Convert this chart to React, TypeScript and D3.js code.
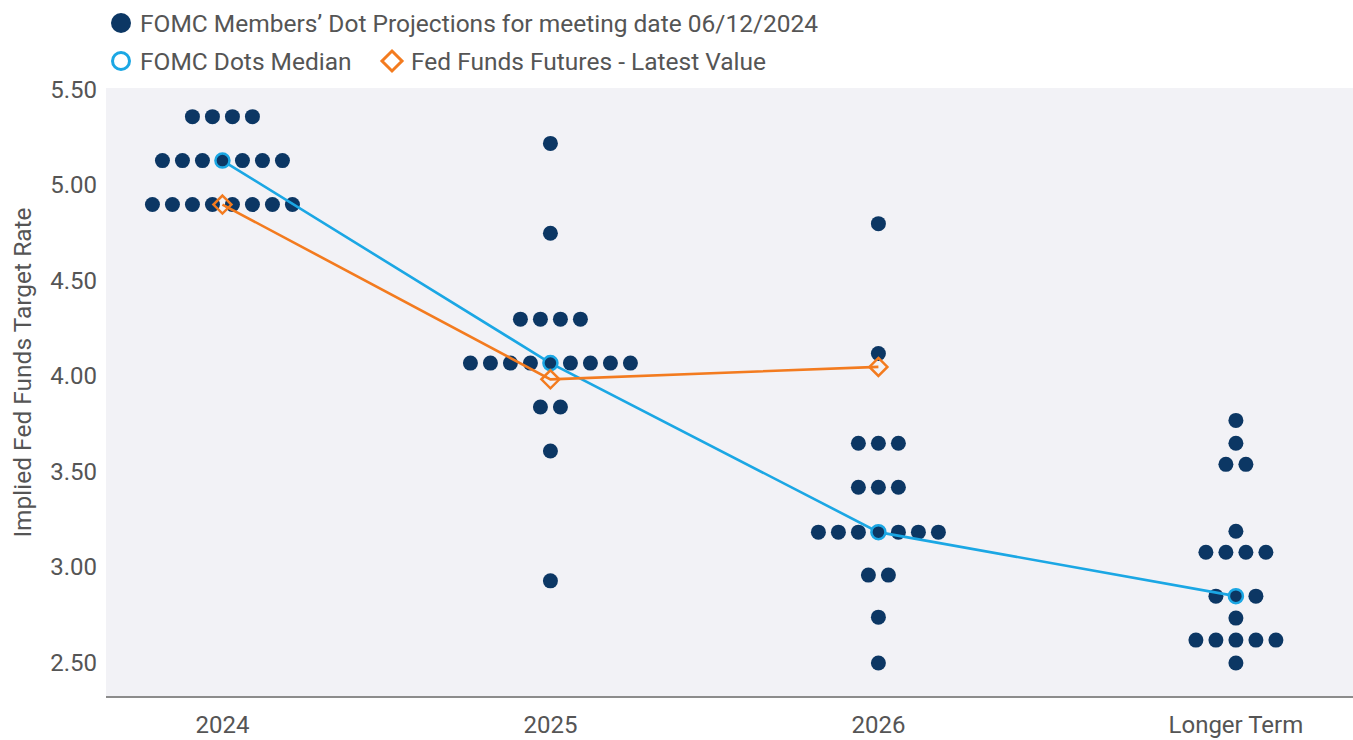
import React from "react";
import * as d3 from "d3";

// categories on the x axis
const categories = ["2024", "2025", "2026", "Longer Term"];

// FOMC dots: [rate, number of members] per row
const dots2024 = [[5.36, 4], [5.13, 7], [4.9, 8]];
const dots2025 = [[5.22, 1], [4.75, 1], [4.3, 4], [4.07, 9], [3.84, 2], [3.61, 1], [2.93, 1]];
const dots2026 = [[4.8, 1], [4.12, 1], [3.65, 3], [3.42, 3], [3.185, 7], [2.96, 2], [2.74, 1], [2.5, 1]];
const dotsLonger = [[3.77, 1], [3.65, 1], [3.54, 2], [3.19, 1], [3.08, 4], [2.85, 3], [2.735, 1], [2.62, 5], [2.5, 1]];
const dotRows = [dots2024, dots2025, dots2026, dotsLonger];

// median of the dots and fed funds futures
const medians = [5.13, 4.07, 3.185, 2.85];
const futures = [4.9, 3.985, 4.05];

const yTicks = [2.5, 3.0, 3.5, 4.0, 4.5, 5.0, 5.5];

const W = 1353;
const H = 740;
const plot = { left: 106, right: 1353, top: 88, bottom: 697 };

const navy = "#0c3764";
const blue = "#1ba7e4";
const orange = "#f37b1f";
const textColor = "#555";
const font = "Roboto, 'Noto Sans', sans-serif";

const DOT_R = 7.5;
const DOT_STEP = 20;

// the "Longer Term" column sits a bit further out than the yearly ones
const catPos = (i: number) => i + (categories[i] === "Longer Term" ? 0.09 : 0);

export default function App() {
  const x = d3.scaleLinear().domain([-0.355, 3.447]).range([plot.left, plot.right]);
  const y = d3.scaleLinear().domain([2.322, 5.51]).range([plot.bottom, plot.top]);

  const medianLine = d3
    .line<number>()
    .x((d, i) => x(catPos(i)))
    .y((d) => y(d));

  const diamond = (cx: number, cy: number, s: number) =>
    `M${cx},${cy - s}L${cx + s},${cy}L${cx},${cy + s}L${cx - s},${cy}Z`;

  return (
    <svg width={W} height={H} style={{ position: "absolute", left: 0, top: 0, background: "#fff" }}>
      <rect x={plot.left} y={plot.top} width={plot.right - plot.left} height={plot.bottom - plot.top} fill="#f2f2f6" />
      <line x1={plot.left} x2={plot.right} y1={plot.bottom} y2={plot.bottom} stroke="#8c8c8c" strokeWidth={2} />

      {yTicks.map((t) => (
        <text key={t} x={97} y={y(t)} textAnchor="end" dominantBaseline="central" fontFamily={font} fontSize={24} fill={textColor}>
          {d3.format(".2f")(t)}
        </text>
      ))}
      {categories.map((c, i) => (
        <text key={c} x={x(catPos(i))} y={725} textAnchor="middle" dominantBaseline="central" fontFamily={font} fontSize={24} fill={textColor}>
          {c}
        </text>
      ))}
      <text
        transform={`translate(22,${(plot.top + plot.bottom) / 2 - 20}) rotate(-90)`}
        textAnchor="middle"
        dominantBaseline="central"
        fontFamily={font}
        fontSize={24.5}
        fill={textColor}
      >
        Implied Fed Funds Target Rate
      </text>

      {dotRows.map((rows, i) =>
        rows.map(([v, n]) =>
          d3.range(n).map((j) => (
            <circle key={`${i}-${v}-${j}`} cx={x(catPos(i)) + (j - (n - 1) / 2) * DOT_STEP} cy={y(v)} r={DOT_R} fill={navy} />
          ))
        )
      )}

      <path d={medianLine(medians) || ""} fill="none" stroke={blue} strokeWidth={2.6} />
      <path d={medianLine(futures) || ""} fill="none" stroke={orange} strokeWidth={2.6} />

      {medians.map((m, i) => (
        <circle key={i} cx={x(catPos(i))} cy={y(m)} r={7} fill={navy} stroke={blue} strokeWidth={2.5} />
      ))}
      {futures.map((f, i) => (
        <path key={i} d={diamond(x(catPos(i)), y(f), 9)} fill="none" stroke={orange} strokeWidth={2.5} />
      ))}

      {/* legend */}
      <circle cx={121} cy={23} r={10} fill={navy} />
      <text x={140} y={23} dominantBaseline="central" fontFamily={font} fontSize={24.5} fill={textColor}>
        FOMC Members’ Dot Projections for meeting date 06/12/2024
      </text>
      <circle cx={121} cy={61} r={8.5} fill="#fff" stroke={blue} strokeWidth={3} />
      <text x={140} y={61} dominantBaseline="central" fontFamily={font} fontSize={24.5} fill={textColor}>
        FOMC Dots Median
      </text>
      <path d={diamond(392, 61, 10)} fill="#fff" stroke={orange} strokeWidth={3} />
      <text x={411} y={61} dominantBaseline="central" fontFamily={font} fontSize={24.5} fill={textColor}>
        Fed Funds Futures - Latest Value
      </text>
    </svg>
  );
}
